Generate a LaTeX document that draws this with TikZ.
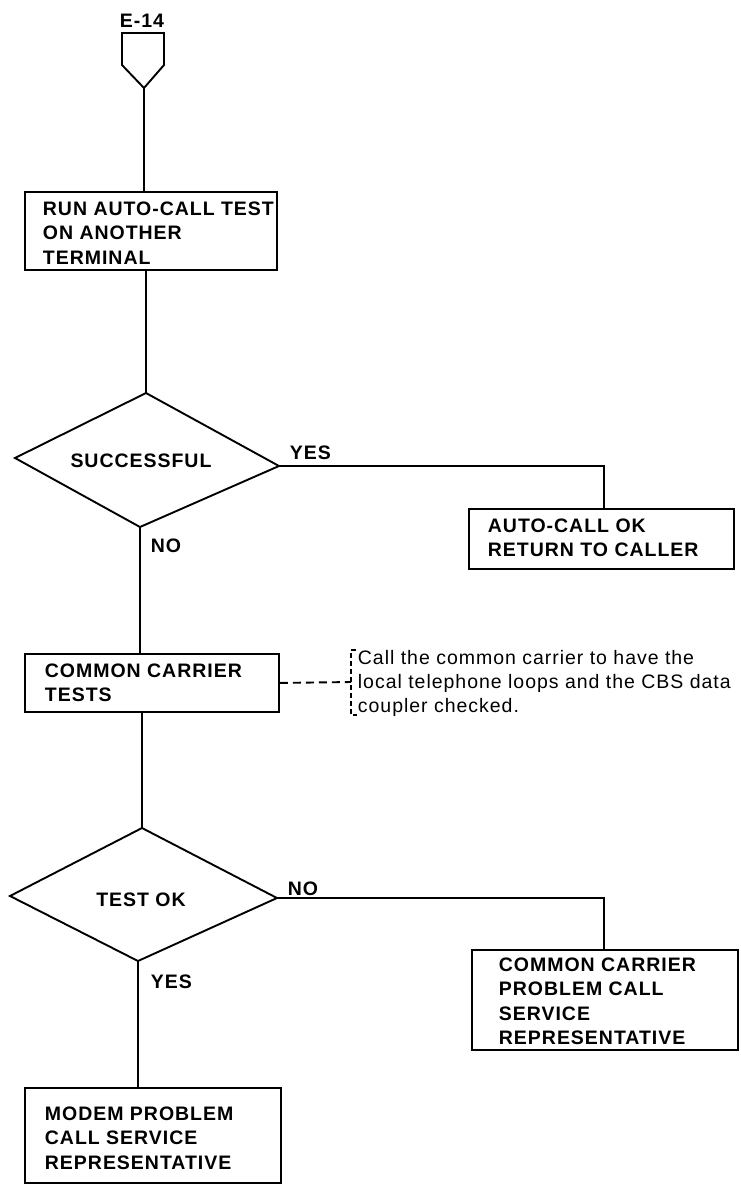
\documentclass[tikz,border=0pt]{standalone}
\usepackage{fontspec}
\setmainfont{Liberation Sans}[LetterSpace=5.0]
\begin{document}
\begin{tikzpicture}[x=1pt,y=-1pt,
  line width=1.9pt, line join=miter,
  boxstyle/.style={draw, rectangle, inner sep=0pt, anchor=north west},
  txt/.style={inner sep=0pt, anchor=north west, align=left,
              font=\bfseries\fontsize{19.5}{24.3}\selectfont},
  notetxt/.style={inner sep=0pt, anchor=north west, align=left,
              font=\fontsize{19.5}{24.3}\selectfont},
  dashconn/.style={dash pattern=on 8pt off 5pt},
  bracketline/.style={line width=1.3pt, dash pattern=on 5pt off 3pt}]
\useasboundingbox (0,0) rectangle (741,1184);

% off-page connector
\coordinate (pentb) at (144,88);
\draw (122,33) -- (164,33) -- (164,65) -- (pentb) -- (122,65) -- cycle;
\node[txt, anchor=north] (e14) at (142,13) {E-14};

% box 1
\node[boxstyle, minimum width=252pt, minimum height=78pt] (b1) at (24,191) {};
\node[txt] (t1) at (42,201) {RUN AUTO-CALL TEST\\ON ANOTHER\\TERMINAL};
\draw (pentb) -- (pentb |- b1.north);

% diamond 1
\coordinate (d1t) at (146,393);
\coordinate (d1r) at (279,466);
\coordinate (d1b) at (140,527);
\coordinate (d1l) at (15,458);
\draw (d1t) -- (d1r) -- (d1b) -- (d1l) -- cycle;
\node[txt, anchor=north] (s1) at (141,453) {SUCCESSFUL};
\draw (d1t |- b1.south) -- (d1t);
\node[txt] (yes1) at (289,445) {YES};
\node[txt] (no1) at (150,538) {NO};

% box 2
\node[boxstyle, minimum width=265pt, minimum height=60pt] (b2) at (468,508) {};
\node[txt] (t2) at (487,518) {AUTO-CALL OK\\RETURN TO CALLER};
\draw (d1r) -| ([xshift=136pt]b2.north west);

% box 3
\node[boxstyle, minimum width=254pt, minimum height=58pt] (b3) at (24,653) {};
\node[txt] (t3) at (44,663) {COMMON CARRIER\\TESTS};
\draw (d1b) -- (d1b |- b3.north);

% note
\coordinate (brk) at (351,682);
\draw[dashconn] (b3.east) -- (brk);
\draw[bracketline] (356,650) -- (351,650) -- (351,715) -- (357,715);
\node[notetxt] (note) at (357,649) {Call the common carrier to have the\\local telephone loops and the CBS data\\coupler checked.};

% diamond 2
\coordinate (d2t) at (142,828);
\coordinate (d2r) at (277,898);
\coordinate (d2b) at (138,961);
\coordinate (d2l) at (10,896);
\draw (d2t) -- (d2r) -- (d2b) -- (d2l) -- cycle;
\node[txt, anchor=north] (s2) at (141,892) {TEST OK};
\draw (d2t |- b3.south) -- (d2t);
\node[txt] (no2) at (287,881) {NO};
\node[txt] (yes2) at (150,974) {YES};

% box 5
\node[boxstyle, minimum width=266pt, minimum height=100pt] (b5) at (471,949) {};
\node[txt] (t5) at (498,957) {COMMON CARRIER\\PROBLEM CALL\\SERVICE\\REPRESENTATIVE};
\draw (d2r) -| ([xshift=133pt]b5.north west);

% box 4
\node[boxstyle, minimum width=256pt, minimum height=95pt] (b4) at (24,1087) {};
\node[txt] (t4) at (44,1106) {MODEM PROBLEM\\CALL SERVICE\\REPRESENTATIVE};
\draw (d2b) -- (d2b |- b4.north);
\end{tikzpicture}
\end{document}
